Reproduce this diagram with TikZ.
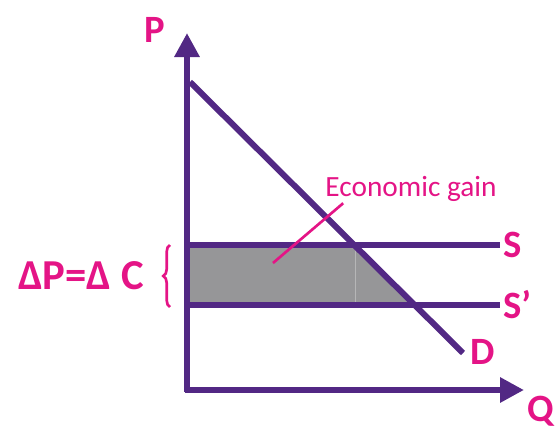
\documentclass[tikz,border=0pt]{standalone}
\usepackage{fontspec}
\setmainfont{Carlito}
\definecolor{ecpurple}{RGB}{82,40,132}
\definecolor{ecpink}{RGB}{228,20,134}
\definecolor{ecgray}{RGB}{150,150,152}
\usetikzlibrary{arrows.meta,decorations.pathreplacing}

\begin{document}
\begin{tikzpicture}[x=0.75pt, y=-0.75pt,
  axis/.style={draw=ecpurple, line width=4.5pt, -{Triangle[length=18pt,width=18pt]}},
  curve/.style={draw=ecpurple, line width=4.5pt},
  lbl/.style={text=ecpink, font=\fontsize{29}{32}\selectfont\bfseries, inner sep=0pt}
]
  \useasboundingbox (0,0) rectangle (558,429);

  %% Points
  \coordinate (O) at (187,392);
  \coordinate (ytop) at (187,33);
  \coordinate (xend) at (524,390);
  \coordinate (d1) at (190,82);
  \coordinate (d2) at (463,353);
  \coordinate (s1) at (187,245);
  \coordinate (s2) at (500,245);
  \coordinate (t1) at (187,305);
  \coordinate (t2) at (500,305);

  %% Shaded gain
  \fill[ecgray] (190,248) -- (354,248) -- (412,302) -- (190,302) -- cycle;
  \draw[ecgray!70!white, line width=0.4pt] (355,248) -- (355,302);

  %% Supply and demand
  \draw[curve] (s1) -- (s2);
  \draw[curve] (t1) -- (t2);
  \draw[curve] (d1) -- (d2);

  %% Axes
  \draw[axis] (O) -- (ytop);
  \draw[axis] (184.75,390) -- (xend);

  %% Labels
  \node[lbl] (P) at (155,30) {P};
  \node[lbl] (Q) at (541,411) {Q};
  \node[lbl, anchor=west] (S) at (503,245) {S};
  \node[lbl, anchor=west] (Sp) at (503,305) {S’};
  \node[lbl, anchor=west] (D) at (470,352) {D};
  \node[lbl, font=\fontsize{32}{35}\selectfont\bfseries] (dp) at (81,276) {ΔP=Δ C};
  \draw[decorate, decoration={brace, amplitude=5pt}, draw=ecpink, line width=2pt] (170,307) -- (170,245);

  %% Economic gain
  \node[text=ecpink, font=\fontsize{22}{25}\selectfont, inner sep=0pt] (gain) at (411,189) {Economic gain};
  \coordinate (gtip) at (273,263);
  \draw[ecpink, line width=2pt] ([xshift=13.5pt,yshift=-1pt]gain.south west) -- (gtip);
\end{tikzpicture}
\end{document}
